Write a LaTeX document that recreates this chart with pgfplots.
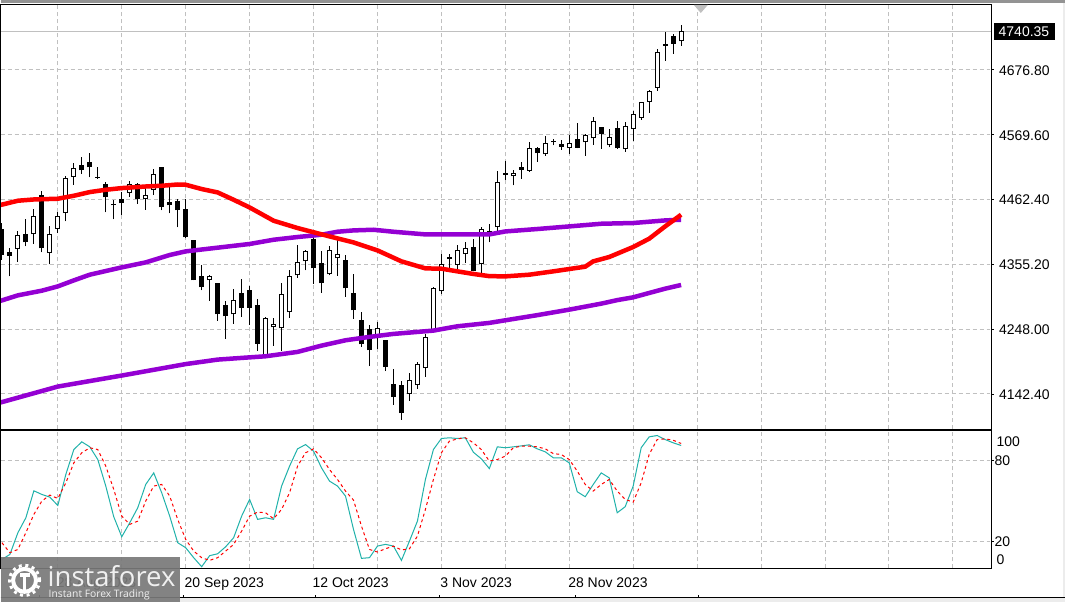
\documentclass[border=0pt]{standalone}
\usepackage{fontspec}
\setmainfont{Liberation Sans}
\newfontfamily\logofont{Open Sans}
\usepackage{pgfplots}
\usepackage{pgfplotstable}
\pgfplotsset{compat=1.18}
\definecolor{gridc}{RGB}{192,192,192}
\definecolor{mav}{RGB}{148,0,211}
\definecolor{stoch}{RGB}{32,178,170}
\pgfplotstableread{
i lo hi bot top
2 4359.2 4409.2 4380.1 4403.1
4 4388.9 4446.0 4404.8 4434.5
6 4354.8 4418.0 4373.5 4404.8
7 4406.4 4441.1 4413.0 4434.5
8 4425.7 4501.0 4439.4 4497.2
9 4486.2 4521.9 4498.8 4513.6
16 4466.4 4492.2 4472.4 4487.3
18 4444.9 4483.4 4462.5 4469.1
19 4469.7 4512.5 4477.4 4503.7
26 4294.9 4337.7 4328.9 4335.5
29 4256.9 4314.6 4272.3 4296.0
33 4200.3 4267.9 4201.9 4266.3
34 4220.6 4266.3 4250.9 4256.4
35 4211.3 4324.0 4249.2 4305.8
36 4266.8 4344.9 4275.6 4335.5
37 4332.8 4387.2 4336.6 4358.6
38 4344.9 4379.0 4359.7 4376.8
41 4336.6 4385.6 4338.3 4378.4
42 4336.1 4398.2 4364.7 4371.8
47 4215.7 4260.2 4233.3 4249.8
51 4129.9 4175.6 4140.9 4164.0
52 4149.7 4194.2 4155.2 4190.4
53 4169.5 4240.4 4183.3 4234.9
54 4244.3 4317.4 4247.0 4315.7
55 4305.3 4372.4 4310.2 4354.8
57 4346.0 4387.2 4353.7 4377.9
58 4357.0 4391.6 4371.8 4381.7
60 4340.5 4416.3 4355.3 4413.0
61 4391.0 4421.8 4403.1 4409.7
62 4409.2 4509.2 4416.3 4490.6
64 4485.1 4510.9 4499.9 4505.4
66 4507.6 4556.5 4509.2 4546.6
68 4534.0 4567.0 4536.2 4554.9
71 4537.3 4568.6 4546.6 4554.9
73 4534.0 4569.7 4556.0 4568.1
74 4552.1 4598.3 4562.6 4591.2
76 4547.7 4578.5 4551.0 4564.8
78 4540.6 4589.5 4544.4 4582.9
79 4558.7 4607.6 4578.0 4602.7
80 4593.4 4623.6 4597.2 4622.5
81 4604.9 4642.8 4623.6 4641.2
82 4641.2 4709.9 4646.7 4704.9
85 4715.4 4750.0 4723.1 4739.6
}\upcandles
\pgfplotstableread{
i lo hi bot top
0 4362.5 4422.9 4370.7 4411.9
1 4335.0 4381.7 4369.1 4374.0
3 4384.5 4429.5 4391.0 4403.1
5 4374.6 4476.3 4381.2 4467.5
10 4504.3 4531.8 4509.8 4518.6
11 4498.3 4538.4 4514.7 4523.5
12 4496.1 4515.8 4497.2 4498.8
13 4440.5 4490.6 4465.3 4485.6
14 4429.0 4461.4 4452.1 4453.2
15 4436.7 4474.6 4455.4 4461.4
17 4454.8 4488.9 4462.0 4486.2
20 4443.8 4515.8 4448.8 4514.2
21 4438.9 4486.2 4452.1 4456.5
22 4415.8 4462.5 4443.8 4458.1
23 4398.2 4463.1 4399.3 4444.9
24 4328.4 4393.8 4328.4 4393.8
25 4311.9 4354.2 4316.8 4333.9
27 4261.9 4324.0 4272.3 4322.9
28 4232.2 4294.3 4269.0 4286.6
30 4268.5 4330.6 4283.3 4306.4
31 4255.3 4318.5 4283.3 4311.3
32 4212.4 4298.1 4223.9 4286.6
39 4322.9 4408.6 4348.2 4395.5
40 4308.0 4376.2 4323.4 4355.3
43 4301.4 4370.7 4315.2 4360.3
44 4265.2 4339.4 4278.9 4306.4
45 4219.0 4276.2 4222.8 4261.3
46 4186.6 4254.7 4212.9 4247.0
48 4178.3 4230.5 4184.9 4228.9
49 4123.3 4182.7 4135.4 4156.3
50 4098.6 4162.9 4109.0 4154.7
56 4347.6 4372.4 4363.0 4365.8
59 4343.2 4396.5 4343.2 4381.7
63 4494.4 4525.7 4502.6 4504.3
65 4496.0 4523.5 4510.9 4514.2
67 4524.1 4548.8 4537.8 4545.5
69 4551.0 4562.0 4556.0 4557.1
70 4543.9 4560.4 4548.8 4552.1
72 4546.1 4588.4 4547.2 4560.4
75 4545.5 4581.8 4569.2 4580.2
77 4545.5 4591.7 4546.1 4579.6
83 4690.7 4737.9 4715.9 4717.0
84 4702.2 4735.2 4719.2 4731.3
}\downcandles
\pgfplotstableread{
i main signal
0 6.4 18.8
1 10.1 11.4
2 26.2 13.8
3 37.3 26.2
4 57.3 39.8
5 54.6 49.7
6 52.6 54.1
7 46.4 51.6
8 69.4 63.2
9 87.9 78.0
10 93.6 85.5
11 89.9 89.2
12 80.5 87.9
13 60.8 75.6
14 38.0 58.3
15 23.2 38.5
16 33.6 32.4
17 44.7 34.8
18 62.0 49.7
19 70.6 60.8
20 55.8 62.0
21 38.5 53.4
22 18.8 36.1
23 15.1 21.3
24 7.7 12.6
25 1.0 7.7
26 9.2 5.7
27 10.6 7.7
28 15.8 12.6
29 22.5 17.5
30 38.5 27.4
31 50.9 38.5
32 36.1 41.5
33 37.3 41.0
34 36.1 36.6
35 60.8 43.5
36 75.6 55.8
37 88.4 75.6
38 91.6 85.5
39 86.7 88.4
40 74.3 81.8
41 64.5 73.1
42 60.8 65.7
43 53.4 57.1
44 28.7 50.4
45 7.2 31.1
46 7.7 13.8
47 16.3 11.9
48 17.6 14.3
49 16.3 16.3
50 5.7 13.4
51 20.0 14.3
52 34.8 23.7
53 65.7 43.5
54 87.9 65.7
55 96.1 85.5
56 96.6 94.1
57 96.1 95.8
58 96.6 96.6
59 85.9 92.9
60 81.0 87.9
61 73.8 79.3
62 89.9 80.5
63 89.2 83.0
64 89.9 89.2
65 90.6 90.4
66 91.4 90.4
67 88.4 89.9
68 86.2 88.4
69 81.8 84.9
70 81.8 84.2
71 78.0 80.5
72 56.6 71.9
73 52.9 62.0
74 62.0 57.1
75 70.6 62.0
76 66.9 65.7
77 41.0 57.1
78 45.5 50.9
79 60.8 48.9
80 89.2 63.2
81 97.3 84.2
82 98.3 95.3
83 95.3 95.8
84 92.9 94.8
85 90.9 92.4
}\stochtable
\newcommand{\sz}[1]{\fontsize{#1}{#1}\selectfont}
\begin{document}
\begin{tikzpicture}[x=1pt,y=1pt]
\fill[white] (0,0) rectangle (1066,603);
\begin{axis}[
  at={(0pt,173.5pt)},anchor=south west,scale only axis,width=992pt,height=425pt,
  xmin=-0.1625,xmax=123.84,ymin=4082.9,ymax=4783.8,
  axis line style={black,line width=1pt},
  xtick={7,15,...,119},xticklabels={},major tick length=2.5pt,
  x tick style={draw=none},
  ytick={4140.8,4248,4355.2,4462.4,4569.6,4676.8},
  yticklabels={4142.40,4248.00,4355.20,4462.40,4569.60,4676.80},
  ytick pos=right,tick align=outside,y tick style={black,line width=0.8pt},
  yticklabel pos=right,
  yticklabel style={anchor=west,xshift=1.5pt,yshift=-1pt,font=\sz{14}},
  grid=major,grid style={gridc,line width=0.9pt,dash pattern=on 4pt off 3pt},
  error bars/error mark=none,
]
\addplot[gridc,line width=1pt,forget plot] coordinates {(-1,4739.8) (124,4739.8)};
\addplot[draw=none,mark=none,forget plot,error bars/.cd,y dir=plus,y explicit,error bar style={black,line width=1pt}]
  table[x=i,y=lo,y error expr=\thisrow{hi}-\thisrow{lo}] {\upcandles};
\addplot[draw=none,mark=none,forget plot,error bars/.cd,y dir=plus,y explicit,error bar style={black,line width=1pt}]
  table[x=i,y=lo,y error expr=\thisrow{hi}-\thisrow{lo}] {\downcandles};
\addplot[draw=none,mark=none,forget plot,error bars/.cd,y dir=plus,y explicit,error bar style={black,line width=5pt}]
  table[x=i,y=bot,y error expr=\thisrow{top}-\thisrow{bot}+1] {\downcandles};
\addplot[draw=none,mark=none,forget plot,error bars/.cd,y dir=plus,y explicit,error bar style={black,line width=5pt}]
  table[x=i,y=bot,y error expr=\thisrow{top}-\thisrow{bot}] {\upcandles};
\addplot[draw=none,mark=none,forget plot,error bars/.cd,y dir=plus,y explicit,error bar style={white,line width=3pt}]
  table[x=i,y expr=\thisrow{bot}+1.65,y error expr=\thisrow{top}-\thisrow{bot}-3.3] {\upcandles};
\addplot[mav,line width=4.5pt,forget plot] coordinates {
(-0.2,4294.4)(2,4303.6)(5,4311.3)(7,4318.4)(9,4328.3)(11,4337.7)(15,4349.8)(18,4358.0)(21,4370.2)(23,4376.2)(27,4382.3)(31,4388.4)(34,4395.4)(37,4399.9)(40,4403.7)(42,4408.6)(44,4410.8)(46.5,4411.9)(49,4408.6)(53,4404.2)(61,4404.2)(63,4409.1)(67,4413.1)(71,4417.4)(75,4421.8)(79,4423.0)(83,4427.3)(85,4428.4)};
\addplot[mav,line width=4.5pt,forget plot] coordinates {
(-0.2,4126.6)(7,4153.0)(15,4171.2)(23,4190.1)(27,4197.5)(30,4200.3)(33,4203.0)(37,4210.2)(40,4220.6)(43,4229.4)(46,4235.0)(49,4239.9)(54,4245.4)(57,4252.5)(61,4258.1)(63,4262.4)(67,4270.9)(71,4280.0)(75,4289.9)(77,4295.7)(79,4300.3)(81,4307.5)(83,4314.6)(85,4320.7)};
\addplot[red,line width=4.5pt,forget plot] coordinates {
(-0.2,4452.7)(2,4459.8)(4,4461.9)(7,4463.1)(9,4468.0)(11,4474.1)(13,4477.9)(15,4480.7)(18,4483.3)(20,4484.5)(22,4486.6)(23,4486.2)(25,4479.1)(27,4473.5)(29,4461.4)(31,4448.7)(34,4426.8)(37,4414.7)(41,4400.9)(44,4391.0)(47,4377.8)(50,4359.7)(53,4348.1)(55,4347.6)(57,4343.2)(59,4338.9)(61,4335.3)(63,4334.9)(66,4337.7)(69,4343.2)(73,4350.9)(74,4359.7)(76,4366.9)(79,4383.4)(81,4397.1)(83,4417.4)(85,4436.7)};
\end{axis}
\begin{axis}[
  at={(0pt,34pt)},anchor=south west,scale only axis,width=992pt,height=138pt,
  xmin=-0.1625,xmax=123.84,ymin=-0.22,ymax=102,
  axis line style={black,line width=1pt},
  xtick={7,15,...,119},xticklabels={},
  x tick style={draw=none},
  extra x ticks={7,23,39,55,71},
  extra x tick labels={28 Aug 2023,20 Sep 2023,12 Oct 2023,3 Nov 2023,28 Nov 2023},
  extra x tick style={tick style={black,line width=0.8pt},major tick length=4pt,tick align=outside,grid=none,
    xticklabel style={anchor=north west,xshift=-4.5pt,yshift=-1.5pt,font=\sz{14}}},
  xtick pos=bottom,
  ytick={20,80},yticklabels={20,80},ytick pos=right,tick align=outside,major tick length=2.5pt,
  y tick style={black,line width=0.8pt},yticklabel pos=right,
  yticklabel style={anchor=west,xshift=-3pt,yshift=-1pt,font=\sz{14}},
  grid=major,grid style={gridc,line width=0.9pt,dash pattern=on 4pt off 3pt},
]
\addplot[stoch,line width=1pt,forget plot] table[x=i,y=main] {\stochtable};
\addplot[red,line width=1pt,dash pattern=on 3pt off 3pt,forget plot] table[x=i,y=signal] {\stochtable};
\end{axis}
% panel frames
\draw[black,line width=1pt] (0,173.5) rectangle (992,598.5);
\draw[black,line width=1pt] (0,34) rectangle (992,172);
% labels beyond the plotted levels
\node[anchor=west,inner sep=0pt,font=\sz{14}] at (997,161) {100};
\node[anchor=west,inner sep=0pt,font=\sz{14}] at (997,43) {0};
% current-price box
\fill[black] (994.3,563) rectangle (1056,579.5);
\node[anchor=west,inner sep=0pt,text=white,font=\sz{14}] at (999,571) {4740.35};
% shift marker
\fill[gridc] (694,598) -- (708,598) -- (701,590) -- cycle;
% window edges
\fill[gray!85] (0,600) rectangle (1066,603);
\fill[gray!15] (0,0) rectangle (1066,5);
\draw[black,line width=1.2pt] (0,4.5) -- (1066,4.5);
\foreach \t in {39,183,315,439,575,699} \draw[black,line width=0.8pt] (\t,4.5) -- (\t,7.5);
\fill[gray!15] (1063.5,5) rectangle (1066,600);
% logo
\fill[gray!95!black,opacity=0.92] (0,0) rectangle (180,45);
\begin{scope}[white]
\draw[line width=4pt] (24,22) circle (11.5);
\draw[line width=3pt,dash pattern=on 3pt off 3.6pt] (24,22) circle (15);
\fill (19,25) rectangle (29,29);
\fill (22.5,10) rectangle (25.5,26);
\end{scope}
\node[anchor=west,inner sep=0pt,text=white!88!gray,font={\logofont\sz{27.5}}] at (47,26) {instaforex};
\node[anchor=west,inner sep=0pt,text=white!88!gray,font={\logofont\sz{10.3}}] at (48,7.5) {Instant Forex Trading};
\end{tikzpicture}
\end{document}
